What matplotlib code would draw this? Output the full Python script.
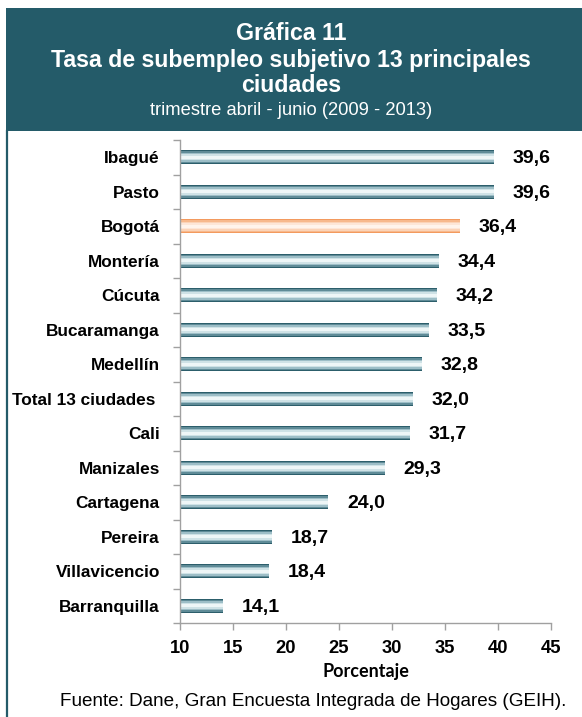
import matplotlib
matplotlib.use("Agg")
import matplotlib.pyplot as plt
from matplotlib.patches import Rectangle
from matplotlib.lines import Line2D

plt.rcParams['font.family'] = ['Liberation Sans', 'DejaVu Sans']

cities = ["Ibagué", "Pasto", "Bogotá", "Montería", "Cúcuta", "Bucaramanga",
          "Medellín", "Total 13 ciudades ", "Cali", "Manizales", "Cartagena",
          "Pereira", "Villavicencio", "Barranquilla"]
values = [39.6, 39.6, 36.4, 34.4, 34.2, 33.5, 32.8, 32.0, 31.7, 29.3, 24.0,
          18.7, 18.4, 14.1]
value_labels = ["39,6", "39,6", "36,4", "34,4", "34,2", "33,5", "32,8", "32,0",
                "31,7", "29,3", "24,0", "18,7", "18,4", "14,1"]
highlight = "Bogotá"
xticks = [10, 15, 20, 25, 30, 35, 40, 45]

W, H = 582, 717
fig = plt.figure(figsize=(W / 100, H / 100), dpi=100)
fig.patch.set_facecolor("white")

teal = "#245b69"
# header box
fig.patches.append(Rectangle((6 / W, 1 - 131 / H), 1 - 6 / W, 123 / H,
                             transform=fig.transFigure, facecolor=teal,
                             edgecolor="none", zorder=0))
# left border line of the panel
fig.lines.append(Line2D([6.5 / W, 6.5 / W], [0, 1 - 131 / H],
                        transform=fig.transFigure, color=teal, lw=1.6))

fig.text(0.5, 1 - 40 / H, "Gráfica 11", ha="center", va="baseline",
         color="white", fontsize=16.7, fontweight="bold")
fig.text(0.5, 1 - 67 / H, "Tasa de subempleo subjetivo 13 principales",
         ha="center", va="baseline", color="white", fontsize=16.7,
         fontweight="bold")
fig.text(0.5, 1 - 92 / H, "ciudades", ha="center", va="baseline",
         color="white", fontsize=16.7, fontweight="bold")
fig.text(0.5, 1 - 115 / H, "trimestre abril - junio (2009 - 2013)",
         ha="center", va="baseline", color="white", fontsize=13.2)

ax = fig.add_axes([180 / W, 1 - 623 / H, (551 - 180) / W, (623 - 140) / H])

n = len(cities)
ypos = list(range(n))
blue_layers = [(0.42, "#2c5e6b"), (0.34, "#5f8b97"), (0.26, "#9dbec7"),
               (0.18, "#cfe2e6"), (0.09, "#eef6f7")]
orange_layers = [(0.42, "#f39a5e"), (0.34, "#f7b88c"), (0.26, "#fbd3b7"),
                 (0.18, "#fde6d7"), (0.09, "#fff4ec")]

for i, (c, v) in enumerate(zip(cities, values)):
    layers = orange_layers if c == highlight else blue_layers
    for h, col in layers:
        ax.barh(i, v - 10, left=10, height=h, color=col, edgecolor="none")
    ax.annotate(value_labels[i], xy=(v, i), xytext=(13.5, -1),
                textcoords="offset points", ha="left", va="center",
                fontsize=14, fontweight="bold", color="black")

ax.set_xlim(10, 45)
ax.set_ylim(n - 0.5, -0.5)
ax.set_xticks(xticks)
ax.set_xticklabels([str(t) for t in xticks], fontsize=13.2, fontweight="bold")
ax.set_yticks(ypos)
ax.set_yticklabels(cities, fontsize=12.4, fontweight="bold")
ax.set_yticks([i + 0.5 for i in range(-1, n)], minor=True)
ax.tick_params(axis="y", which="major", length=0, pad=14.5)
ax.tick_params(axis="y", which="minor", length=5, color="#a0a0a0", width=1)
ax.tick_params(axis="x", length=5, color="#a0a0a0", width=1, pad=7.5)

for s in ["top", "right"]:
    ax.spines[s].set_visible(False)
for s in ["left", "bottom"]:
    ax.spines[s].set_color("#a0a0a0")
    ax.spines[s].set_linewidth(1)

fig.text(366 / W, 1 - 671 / H, "Porcentaje", ha="center",
         va="center", fontsize=13, fontweight="bold",
         family=["Lato", "Liberation Sans"])
fig.text(313 / W, 1 - 701 / H,
         "Fuente: Dane, Gran Encuesta Integrada de Hogares (GEIH).",
         ha="center", va="center", fontsize=13.6)

fig.savefig("out.png", dpi=100)
